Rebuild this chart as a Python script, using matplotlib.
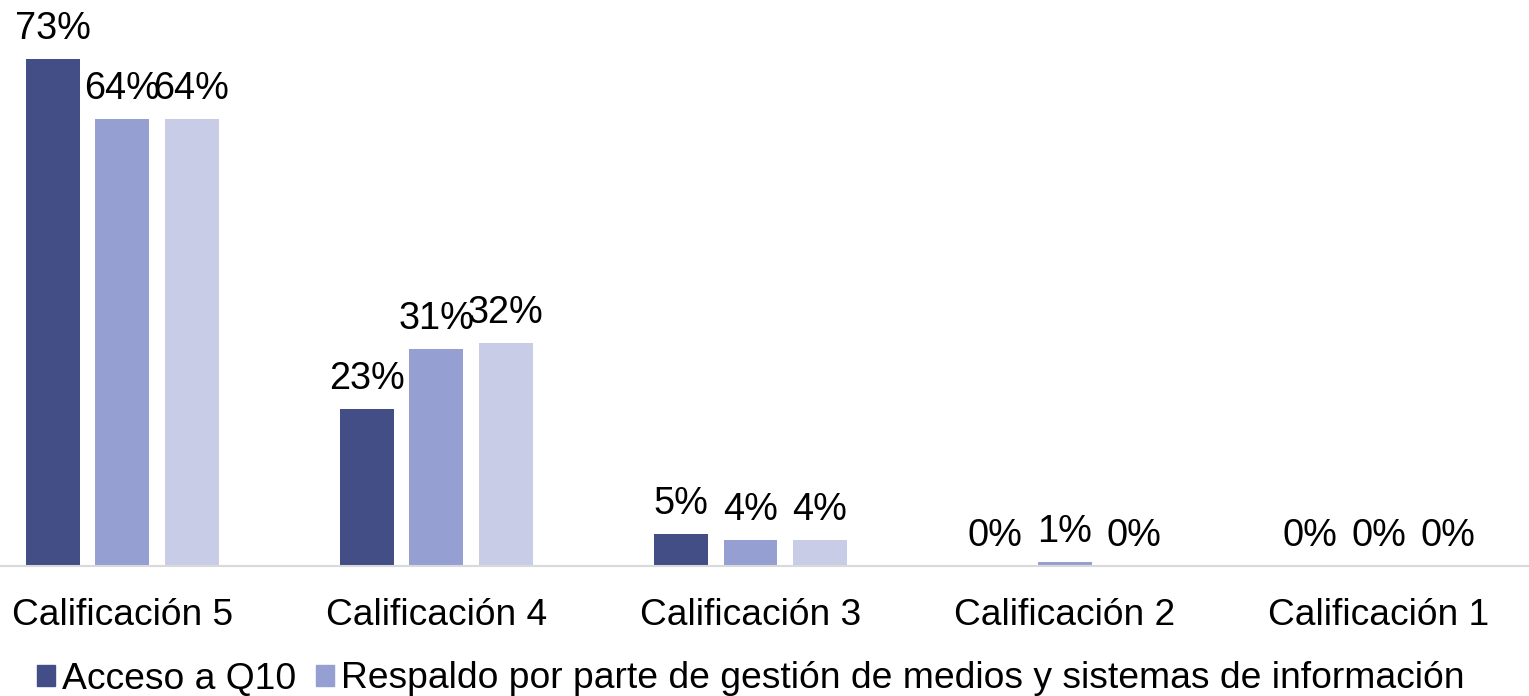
import matplotlib
matplotlib.use("Agg")
import matplotlib.pyplot as plt
from matplotlib.patches import Patch
import numpy as np

categories = ["Calificación 5", "Calificación 4", "Calificación 3", "Calificación 2", "Calificación 1"]
series_names = ["Acceso a Q10",
                "Respaldo por parte de gestión de medios y sistemas de información",
                "Serie 3"]
acceso_q10 = [73, 22.6, 4.6, 0.0, 0.0]
respaldo = [64.4, 31.2, 3.7, 0.6, 0.0]
serie3 = [64.4, 32.1, 3.7, 0.0, 0.0]
labels_acceso = ["73%", "23%", "5%", "0%", "0%"]
labels_respaldo = ["64%", "31%", "4%", "1%", "0%"]
labels_serie3 = ["64%", "32%", "4%", "0%", "0%"]

colors = ["#434E86", "#969FD1", "#C9CCE6"]

plt.rcParams['font.family'] = ['Liberation Sans', 'DejaVu Sans']
FS_TICK = 26.7
FS_LAB = 27.3
FS_LEG = 26.85

fig = plt.figure(figsize=(15.29, 6.96), dpi=100)
ax = fig.add_axes([0, (696 - 566) / 696, 1, 566 / 696])

x = np.arange(len(categories))
w = 54 / 314.5
off = 69.5 / 314.5
all_vals = [acceso_q10, respaldo, serie3]
all_labels = [labels_acceso, labels_respaldo, labels_serie3]
for i, (vals, labs) in enumerate(zip(all_vals, all_labels)):
    pos = x + (i - 1) * off
    ax.bar(pos, vals, width=w, color=colors[i], label=series_names[i])
    for p, v, t in zip(pos, vals, labs):
        ax.annotate(t, (p, v), xytext=(0, 14.4), textcoords="offset points",
                    ha="center", va="baseline", fontsize=FS_LAB, color="black")

ax.set_xlim(-0.5 + 35 / 314.5, 4.5 - 7 / 314.5)
ax.set_ylim(0, 81.5)
for s in ["top", "right", "left"]:
    ax.spines[s].set_visible(False)
ax.spines["bottom"].set_color("#D9D9D9")
ax.spines["bottom"].set_linewidth(1.5)
ax.set_yticks([])
ax.set_xticks(x)
ax.set_xticklabels(categories, fontsize=FS_TICK)
ax.tick_params(axis="x", length=0, pad=23)

handles = [Patch(color=colors[0]), Patch(color=colors[1])]
fig.legend(handles, series_names[:2], loc="center left",
           bbox_to_anchor=(37 / 1529, (696 - 679) / 696),
           ncol=2, frameon=False, fontsize=FS_LEG, handlelength=0.48, handleheight=0.48,
           handletextpad=0.185, columnspacing=0.53, borderaxespad=0, borderpad=0)

fig.savefig("out.png", dpi=100)
